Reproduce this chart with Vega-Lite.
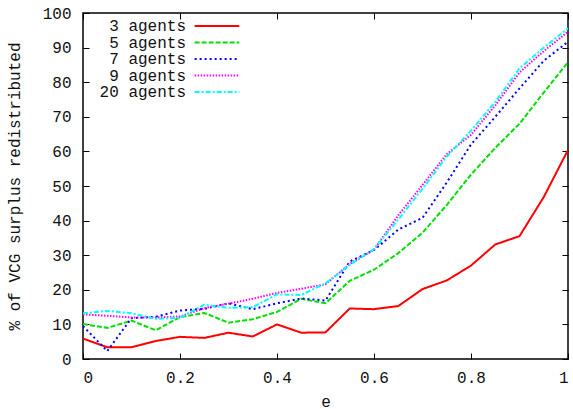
{
  "$schema": "https://vega.github.io/schema/vega-lite/v6.json",
  "width": 485,
  "height": 346,
  "autosize": {"type": "none"},
  "padding": {"left": 83, "top": 13, "right": 5, "bottom": 50},
  "background": "white",
  "config": {
    "font": "Liberation Mono",
    "view": {"stroke": "black", "strokeWidth": 1.5},
    "axis": {
      "domain": false,
      "grid": false,
      "tickSize": -6,
      "tickColor": "black",
      "tickWidth": 1,
      "labelFont": "Liberation Mono",
      "labelFontSize": 16,
      "labelColor": "#111",
      "titleFont": "Liberation Mono",
      "titleFontSize": 16,
      "titleFontWeight": "normal",
      "titleColor": "#111"
    },
    "legend": {
      "labelFont": "Liberation Mono",
      "labelFontSize": 16,
      "labelColor": "#111"
    }
  },
  "data": {
    "values": [
      {"e": 0, "series": "3 agents", "v": 5.9},
      {"e": 0.05, "series": "3 agents", "v": 3.4},
      {"e": 0.1, "series": "3 agents", "v": 3.4},
      {"e": 0.15, "series": "3 agents", "v": 5.2},
      {"e": 0.2, "series": "3 agents", "v": 6.4},
      {"e": 0.25, "series": "3 agents", "v": 6.1},
      {"e": 0.3, "series": "3 agents", "v": 7.6},
      {"e": 0.35, "series": "3 agents", "v": 6.5},
      {"e": 0.4, "series": "3 agents", "v": 10.0},
      {"e": 0.45, "series": "3 agents", "v": 7.6},
      {"e": 0.5, "series": "3 agents", "v": 7.7},
      {"e": 0.55, "series": "3 agents", "v": 14.6},
      {"e": 0.6, "series": "3 agents", "v": 14.4},
      {"e": 0.65, "series": "3 agents", "v": 15.3},
      {"e": 0.7, "series": "3 agents", "v": 20.2},
      {"e": 0.75, "series": "3 agents", "v": 22.7},
      {"e": 0.8, "series": "3 agents", "v": 27.0},
      {"e": 0.85, "series": "3 agents", "v": 33.1},
      {"e": 0.9, "series": "3 agents", "v": 35.5},
      {"e": 0.95, "series": "3 agents", "v": 46.8},
      {"e": 1, "series": "3 agents", "v": 60.4},
      {"e": 0, "series": "5 agents", "v": 10.1},
      {"e": 0.05, "series": "5 agents", "v": 9.0},
      {"e": 0.1, "series": "5 agents", "v": 11.1},
      {"e": 0.15, "series": "5 agents", "v": 8.3},
      {"e": 0.2, "series": "5 agents", "v": 12.1},
      {"e": 0.25, "series": "5 agents", "v": 13.3},
      {"e": 0.3, "series": "5 agents", "v": 10.5},
      {"e": 0.35, "series": "5 agents", "v": 11.5},
      {"e": 0.4, "series": "5 agents", "v": 13.6},
      {"e": 0.45, "series": "5 agents", "v": 17.4},
      {"e": 0.5, "series": "5 agents", "v": 16.1},
      {"e": 0.55, "series": "5 agents", "v": 22.6},
      {"e": 0.6, "series": "5 agents", "v": 25.8},
      {"e": 0.65, "series": "5 agents", "v": 30.6},
      {"e": 0.7, "series": "5 agents", "v": 36.5},
      {"e": 0.75, "series": "5 agents", "v": 44.5},
      {"e": 0.8, "series": "5 agents", "v": 53.3},
      {"e": 0.85, "series": "5 agents", "v": 61.0},
      {"e": 0.9, "series": "5 agents", "v": 68.0},
      {"e": 0.95, "series": "5 agents", "v": 77.0},
      {"e": 1, "series": "5 agents", "v": 85.8},
      {"e": 0, "series": "7 agents", "v": 9.5},
      {"e": 0.05, "series": "7 agents", "v": 2.3},
      {"e": 0.1, "series": "7 agents", "v": 11.8},
      {"e": 0.15, "series": "7 agents", "v": 12.2},
      {"e": 0.2, "series": "7 agents", "v": 14.0},
      {"e": 0.25, "series": "7 agents", "v": 14.5},
      {"e": 0.3, "series": "7 agents", "v": 16.1},
      {"e": 0.35, "series": "7 agents", "v": 14.4},
      {"e": 0.4, "series": "7 agents", "v": 16.1},
      {"e": 0.45, "series": "7 agents", "v": 17.5},
      {"e": 0.5, "series": "7 agents", "v": 16.9},
      {"e": 0.55, "series": "7 agents", "v": 28.2},
      {"e": 0.6, "series": "7 agents", "v": 31.5},
      {"e": 0.65, "series": "7 agents", "v": 37.4},
      {"e": 0.7, "series": "7 agents", "v": 40.8},
      {"e": 0.75, "series": "7 agents", "v": 51.0},
      {"e": 0.8, "series": "7 agents", "v": 62.0},
      {"e": 0.85, "series": "7 agents", "v": 70.0},
      {"e": 0.9, "series": "7 agents", "v": 78.2},
      {"e": 0.95, "series": "7 agents", "v": 86.2},
      {"e": 1, "series": "7 agents", "v": 91.7},
      {"e": 0, "series": "9 agents", "v": 12.9},
      {"e": 0.05, "series": "9 agents", "v": 12.5},
      {"e": 0.1, "series": "9 agents", "v": 12.0},
      {"e": 0.15, "series": "9 agents", "v": 12.0},
      {"e": 0.2, "series": "9 agents", "v": 12.3},
      {"e": 0.25, "series": "9 agents", "v": 14.7},
      {"e": 0.3, "series": "9 agents", "v": 16.0},
      {"e": 0.35, "series": "9 agents", "v": 17.4},
      {"e": 0.4, "series": "9 agents", "v": 19.1},
      {"e": 0.45, "series": "9 agents", "v": 20.3},
      {"e": 0.5, "series": "9 agents", "v": 21.6},
      {"e": 0.55, "series": "9 agents", "v": 27.5},
      {"e": 0.6, "series": "9 agents", "v": 31.6},
      {"e": 0.65, "series": "9 agents", "v": 41.5},
      {"e": 0.7, "series": "9 agents", "v": 50.3},
      {"e": 0.75, "series": "9 agents", "v": 59.2},
      {"e": 0.8, "series": "9 agents", "v": 64.8},
      {"e": 0.85, "series": "9 agents", "v": 73.3},
      {"e": 0.9, "series": "9 agents", "v": 82.8},
      {"e": 0.95, "series": "9 agents", "v": 89.0},
      {"e": 1, "series": "9 agents", "v": 94.6},
      {"e": 0, "series": "20 agents", "v": 13.2},
      {"e": 0.05, "series": "20 agents", "v": 13.9},
      {"e": 0.1, "series": "20 agents", "v": 13.2},
      {"e": 0.15, "series": "20 agents", "v": 11.6},
      {"e": 0.2, "series": "20 agents", "v": 11.9},
      {"e": 0.25, "series": "20 agents", "v": 15.7},
      {"e": 0.3, "series": "20 agents", "v": 14.8},
      {"e": 0.35, "series": "20 agents", "v": 15.0},
      {"e": 0.4, "series": "20 agents", "v": 18.7},
      {"e": 0.45, "series": "20 agents", "v": 18.5},
      {"e": 0.5, "series": "20 agents", "v": 21.9},
      {"e": 0.55, "series": "20 agents", "v": 27.2},
      {"e": 0.6, "series": "20 agents", "v": 31.8},
      {"e": 0.65, "series": "20 agents", "v": 40.3},
      {"e": 0.7, "series": "20 agents", "v": 49.2},
      {"e": 0.75, "series": "20 agents", "v": 58.5},
      {"e": 0.8, "series": "20 agents", "v": 66.0},
      {"e": 0.85, "series": "20 agents", "v": 74.3},
      {"e": 0.9, "series": "20 agents", "v": 84.0},
      {"e": 0.95, "series": "20 agents", "v": 90.0},
      {"e": 1, "series": "20 agents", "v": 95.6}
    ]
  },
  "layer": [
    {
      "mark": {"type": "line", "strokeWidth": 2, "clip": true},
      "encoding": {
        "x": {
          "field": "e", "type": "quantitative",
          "scale": {"domain": [0, 1], "nice": false},
          "axis": {"orient": "bottom", "title": "e", "values": [0, 0.2, 0.4, 0.6, 0.8, 1], "format": "~g", "labelPadding": 16, "titlePadding": 8}
        },
        "y": {
          "field": "v", "type": "quantitative",
          "scale": {"domain": [0, 100], "nice": false},
          "axis": {"orient": "left", "title": "% of VCG surplus redistributed", "values": [0, 10, 20, 30, 40, 50, 60, 70, 80, 90, 100], "labelPadding": 18, "titlePadding": 20}
        },
        "color": {
          "field": "series", "type": "nominal",
          "scale": {
            "domain": ["3 agents", "5 agents", "7 agents", "9 agents", "20 agents"],
            "range": ["#ff0000", "#00e000", "#0000ff", "#ff00ff", "#00ffff"]
          },
          "legend": {
            "title": null,
            "orient": "none",
            "legendX": 12,
            "legendY": 5,
            "direction": "vertical",
            "symbolType": "M-4,0H4",
            "symbolSize": 125,
            "symbolStrokeWidth": 2,
            "symbolOffset": 114,
            "rowPadding": 0.5,
            "labelAlign": "right",
            "labelOffset": -39
          }
        },
        "strokeDash": {
          "field": "series", "type": "nominal",
          "scale": {
            "domain": ["3 agents", "5 agents", "7 agents", "9 agents", "20 agents"],
            "range": [[1, 0], [5, 2], [2, 3], [1.5, 1.5], [5, 2, 2, 2]]
          },
          "legend": {
            "title": null,
            "orient": "none",
            "legendX": 12,
            "legendY": 5,
            "direction": "vertical",
            "symbolType": "M-4,0H4",
            "symbolSize": 125,
            "symbolStrokeWidth": 2,
            "symbolOffset": 114,
            "rowPadding": 0.5,
            "labelAlign": "right",
            "labelOffset": -39
          }
        }
      }
    },
    {
      "mark": {"type": "line", "opacity": 0},
      "encoding": {
        "x": {
          "field": "e", "type": "quantitative",
          "scale": {"domain": [0, 1], "nice": false},
          "axis": {"orient": "top", "title": null, "labels": false, "values": [0, 0.2, 0.4, 0.6, 0.8, 1]}
        },
        "y": {
          "field": "v", "type": "quantitative",
          "scale": {"domain": [0, 100], "nice": false},
          "axis": {"orient": "right", "title": null, "labels": false, "values": [0, 10, 20, 30, 40, 50, 60, 70, 80, 90, 100]}
        },
        "detail": {"field": "series", "type": "nominal"}
      }
    }
  ],
  "resolve": {"axis": {"x": "independent", "y": "independent"}}
}
